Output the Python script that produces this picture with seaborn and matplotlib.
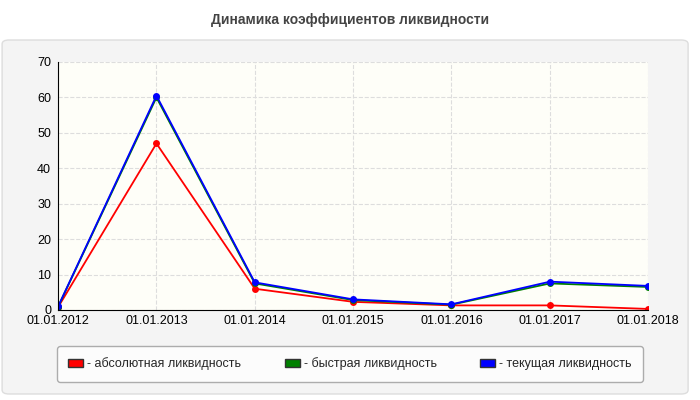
import matplotlib
matplotlib.use("Agg")
import matplotlib.pyplot as plt
import seaborn as sns
import pandas as pd
from matplotlib.patches import FancyBboxPatch, Patch

dates = ["01.01.2012","01.01.2013","01.01.2014","01.01.2015","01.01.2016","01.01.2017","01.01.2018"]
absolute = [0.8, 47.0, 6.0, 2.3, 1.3, 1.3, 0.3]
quick = [0.9, 60.0, 7.5, 2.8, 1.5, 7.5, 6.5]
current = [1.0, 60.5, 7.8, 3.0, 1.6, 8.0, 6.8]
names = ["- абсолютная ликвидность", "- быстрая ликвидность", "- текущая ликвидность"]
colors = ["#ff0000", "#008000", "#0000ff"]

sns.set_style("white")
plt.rcParams['font.family'] = ['Liberation Sans', 'DejaVu Sans']

fig = plt.figure(figsize=(7, 4), dpi=100)
fig.patch.set_facecolor("white")
bg = FancyBboxPatch((0.003, 0.015), 0.98, 0.885, boxstyle="round,pad=0,rounding_size=0.01",
                    transform=fig.transFigure, facecolor="#f4f4f4", edgecolor="#dddddd", zorder=-10)
fig.patches.append(bg)
fig.text(0.5, 0.95, "Динамика коэффициентов ликвидности", ha="center", va="center",
         fontsize=10, fontweight="bold", color="#444444")

ax = fig.add_axes([0.083, 0.225, 0.843, 0.62])
ax.set_zorder(1)
ax.set_facecolor("#fefef8")
x = list(range(len(dates)))
df = pd.DataFrame({"x": x * 3, "y": absolute + quick + current,
                   "s": [names[0]] * 7 + [names[1]] * 7 + [names[2]] * 7})
sns.lineplot(data=df, x="x", y="y", hue="s", palette=colors, marker="o", markersize=5,
             markeredgewidth=0, linewidth=1.3, ax=ax, legend=False)
ax.set_xlim(0, 6)
ax.set_ylim(0, 70)
ax.set_yticks(range(0, 71, 10))
ax.set_xticks(x)
ax.set_xticklabels(dates)
ax.set_xlabel("")
ax.set_ylabel("")
ax.tick_params(labelsize=9, colors="#000000", length=0)
ax.tick_params(axis="y", pad=5)
ax.grid(True, color="#dddddd", linestyle="--", linewidth=0.8)
for s in ["top", "right"]:
    ax.spines[s].set_visible(False)
ax.spines["left"].set_color("#000000")
ax.spines["bottom"].set_color("#000000")

handles = [Patch(facecolor=c, edgecolor="#333333") for c in colors]
leg = fig.legend(handles, names, loc="center", bbox_to_anchor=(0.5, 0.09), ncol=3,
                 fontsize=9, frameon=True, fancybox=True, handlelength=1.2, handleheight=0.7,
                 columnspacing=3.5, borderpad=0.9, handletextpad=0.3)
leg.get_frame().set_edgecolor("#999999")
leg.get_frame().set_facecolor("white")

fig.savefig("out.png", dpi=100)
